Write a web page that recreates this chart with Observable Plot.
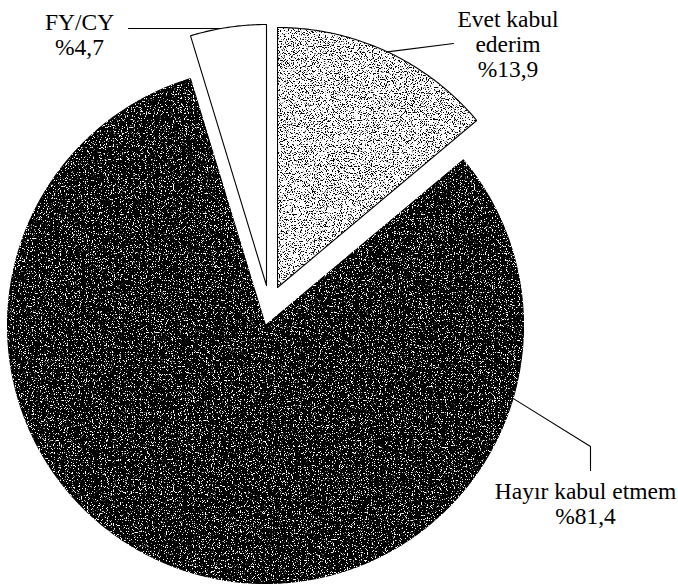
<!DOCTYPE html>
<html><head><meta charset="utf-8">
<script src="https://cdn.jsdelivr.net/npm/d3@7"></script>
<script src="https://cdn.jsdelivr.net/npm/@observablehq/plot@0.6"></script>
<style>body{margin:0;background:#fff}#chart svg{display:block}</style>
</head><body><div id="chart"></div>
<script>
// ---- data ----
const categories = ["Evet kabul ederim", "Hayır kabul etmem", "FY/CY"];
const values = [13.9, 81.4, 4.7];
const labelTexts = ["Evet kabul\nederim\n%13,9", "Hayır kabul etmem\n%81,4", "FY/CY\n%4,7"];

// ---- layout ----
const W = 678, H = 584, CX = 265, CY = 325;
const radii = [260, 258, 261];
const explode = [[12, -38], [0, 0], [1, -40]];
const fills = ["#ffffff", "#000000", "#ffffff"];
const textures = ["grainLight", "grainDark", null];
const leaderAngle = [25, 106.4, 350];
const leaderRest = [[[188, -282]], [[325, 121], [325, 145]], [[-137, -297]]];
const labelPos = [[242.5, -316.7], [320, 155.3], [-186, -313.7]];
const FONT = "Liberation Serif";

const total = d3.sum(values);
const rad = a => a * Math.PI / 180;
let acc = 0;
const slices = values.map((v, i) => {
  const a0 = acc / total * 360; acc += v; const a1 = acc / total * 360;
  return {i, name: categories[i], a0, a1};
});

const pts = [];
slices.forEach(s => {
  const [ox, oy] = explode[s.i], r = radii[s.i];
  pts.push({k: s.name, x: ox, y: oy});
  const n = Math.max(2, Math.ceil((s.a1 - s.a0) / 0.5));
  for (let j = 0; j <= n; j++) {
    const a = rad(s.a0 + (s.a1 - s.a0) * j / n);
    pts.push({k: s.name, x: ox + r * Math.sin(a), y: oy - r * Math.cos(a)});
  }
  pts.push({k: s.name, x: ox, y: oy});
});

const leaders = [];
slices.forEach(s => {
  const [ox, oy] = explode[s.i], r = radii[s.i], a = rad(leaderAngle[s.i]);
  leaders.push({k: s.name, x: ox + r * Math.sin(a), y: oy - r * Math.cos(a)});
  leaderRest[s.i].forEach(([x, y]) => leaders.push({k: s.name, x, y}));
});

const labels = slices.map(s => ({k: s.name, t: labelTexts[s.i], x: labelPos[s.i][0], y: labelPos[s.i][1]}));

const chart = Plot.plot({
  width: W, height: H, margin: 0,
  x: {domain: [-CX, W - CX], range: [0, W], axis: null},
  y: {domain: [-CY, H - CY], range: [0, H], axis: null},
  marks: [
    slices.map(s => Plot.line(pts.filter(p => p.k === s.name), {
      x: "x", y: "y", fill: fills[s.i], stroke: "#000", strokeWidth: 1.1, curve: "linear",
      className: "slice" + s.i
    })),
    Plot.line(leaders, {x: "x", y: "y", z: "k", stroke: "#000", strokeWidth: 1.1}),
    Plot.text(labels, {
      x: "x", y: "y", text: "t", textAnchor: "middle", lineAnchor: "top",
      fontFamily: FONT, fontSize: 23.5, lineHeight: 1.064, fill: "#000"
    })
  ]
});

// scanned-print grain textures
const svg = d3.select(chart);
svg.selectAll("text").style("font-family", `'${FONT}', serif`);
const defs = svg.insert("defs", ":first-child");
function grain(id, alphaRow, color, seed) {
  const f = defs.append("filter").attr("id", id).attr("x", 0).attr("y", 0).attr("width", 1).attr("height", 1)
    .attr("color-interpolation-filters", "sRGB");
  f.append("feTurbulence").attr("type", "fractalNoise").attr("baseFrequency", 0.85).attr("numOctaves", 2).attr("seed", seed).attr("result", "n");
  f.append("feColorMatrix").attr("in", "n").attr("type", "matrix")
    .attr("values", `0 0 0 0 ${color}  0 0 0 0 ${color}  0 0 0 0 ${color}  ${alphaRow}`).attr("result", "s");
  f.append("feComposite").attr("in", "s").attr("in2", "SourceGraphic").attr("operator", "atop");
}
grain("grainDark", "14 0 0 0 -8.4", 1, 4);
grain("grainLight", "-14 0 0 0 6.2", 0, 7);
slices.forEach(s => {
  if (textures[s.i]) svg.selectAll(".slice" + s.i + " path").attr("filter", `url(#${textures[s.i]})`);
});
document.getElementById("chart").append(chart);
</script>
</body></html>
